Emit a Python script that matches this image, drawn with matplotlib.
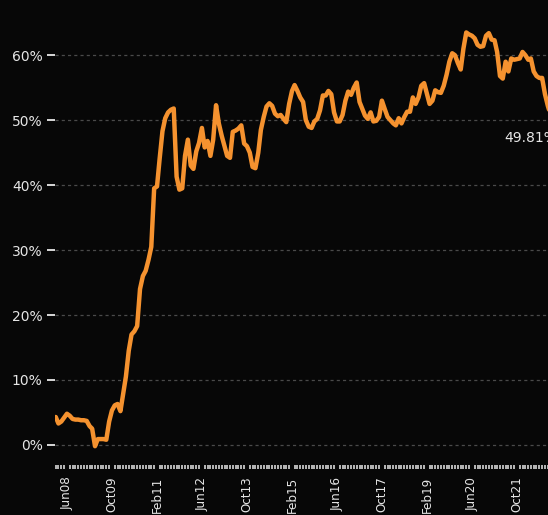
import matplotlib
matplotlib.use("Agg")
import matplotlib.pyplot as plt
import matplotlib.dates as mdates
import pandas as pd
import numpy as np

# ---- data (monthly share, %) ----
start_month = "2008-02-01"
values = [
    4.3, 3.3, 3.6, 4.2, 4.8, 4.5, 4.0, 3.9, 3.9, 3.8,
    3.8, 3.7, 2.9, 2.5, -0.2, 0.9, 0.9, 0.9, 0.8, 3.6,
    5.3, 6.1, 6.3, 5.2, 8.0, 10.5, 14.5, 17.0, 17.5, 18.3,
    24.0, 26.0, 26.8, 28.5, 30.5, 39.5, 39.8, 44.0, 48.3, 50.3,
    51.2, 51.6, 51.8, 41.3, 39.3, 39.5, 44.5, 47.0, 43.0, 42.5,
    45.2, 46.5, 48.8, 45.8, 46.8, 44.5, 47.0, 52.3, 49.5, 47.6,
    46.0, 44.5, 44.2, 48.2, 48.4, 48.7, 49.2, 46.4, 46.0, 45.0,
    42.8, 42.6, 45.0, 48.5, 50.5, 52.1, 52.6, 52.2, 51.0, 50.6,
    50.8, 50.2, 49.7, 52.5, 54.5, 55.4, 54.5, 53.5, 52.8, 50.0,
    49.0, 48.8, 49.8, 50.2, 51.5, 53.8, 53.8, 54.5, 54.0, 51.2,
    49.8, 49.8, 50.8, 53.0, 54.4, 53.9, 55.0, 55.8, 52.8, 51.8,
    50.7, 50.2, 51.2, 49.8, 49.9, 50.5, 53.0, 51.7, 50.5, 50.0,
    49.5, 49.2, 50.3, 49.5, 50.5, 51.3, 51.3, 53.5, 52.5, 53.5,
    55.3, 55.7, 54.0, 52.5, 53.0, 54.6, 54.3, 54.2, 55.3, 57.0,
    59.0, 60.3, 60.0, 58.8, 57.8, 61.0, 63.5, 63.2, 63.0, 62.6,
    61.6, 61.3, 61.4, 63.0, 63.4, 62.4, 62.3, 60.5, 56.8, 56.4,
    59.0, 57.5, 59.5, 59.3, 59.4, 59.5, 60.5, 60.0, 59.3, 59.5,
    57.5, 56.8, 56.5, 56.5, 54.0, 52.2, 50.8, 49.81,
]
dates = pd.date_range(start_month, periods=len(values), freq="MS")

tick_dates = pd.date_range("2008-06-01", "2021-10-01", freq="16MS")
tick_labels = ["Jun08", "Oct09", "Feb11", "Jun12", "Oct13", "Feb15",
               "Jun16", "Oct17", "Feb19", "Jun20", "Oct21"]
y_ticks = [0, 10, 20, 30, 40, 50, 60]
y_labels = ["0%", "10%", "20%", "30%", "40%", "50%", "60%"]
last_label = "49.81%"

# ---- style ----
BG = "#070707"
LINE = "#f5922f"
TXT = "#e6e6e6"
FONT = ["DejaVu Sans"]

plt.rcParams["font.family"] = FONT

W, H = 548, 515
fig = plt.figure(figsize=(W / 100, H / 100), dpi=100, facecolor=BG)
left_px, right_px, bottom_px = 55, 570, 467
ax = fig.add_axes([left_px / W, 1 - bottom_px / H, (right_px - left_px) / W, bottom_px / H])
ax.set_facecolor(BG)

ax.plot(dates, values, color=LINE, lw=3.2, solid_joinstyle="round",
        solid_capstyle="round", zorder=3)

# x range
d0 = mdates.date2num(dates[0])
days_per_px = 30.44 / 2.8125
ax.set_xlim(d0 - 0.75 * days_per_px, d0 - 0.75 * days_per_px + (right_px - left_px) * days_per_px)
ax.set_ylim(-3.4, 68.5)

ax.set_xticks(mdates.date2num(tick_dates))
ax.set_xticklabels(tick_labels, rotation=90, color=TXT, fontsize=9.5,
                   fontstretch="condensed", va="top")
ax.xaxis.set_minor_locator(mdates.MonthLocator())
ax.tick_params(axis="x", which="major", length=0, pad=7)
ax.tick_params(axis="x", which="minor", length=3, width=1.1, color="#e8e8e8",
               direction="inout")

ax.set_yticks(y_ticks)
ax.set_yticklabels(y_labels, color=TXT, fontsize=10)
ax.tick_params(axis="y", which="major", length=6, width=1.4, color="#d8d8d8", pad=3)

ax.grid(axis="y", color="#4a4a4a", lw=0.9, ls=(0, (2.5, 2.5)), zorder=1)

for s in ax.spines.values():
    s.set_visible(False)

ax.annotate(last_label, xy=(mdates.date2num(dates[-1]), values[-1]),
            xytext=(3, -12), textcoords="offset points",
            ha="right", va="center", color=TXT, fontsize=10)

fig.savefig("out.png", dpi=100, facecolor=BG)
